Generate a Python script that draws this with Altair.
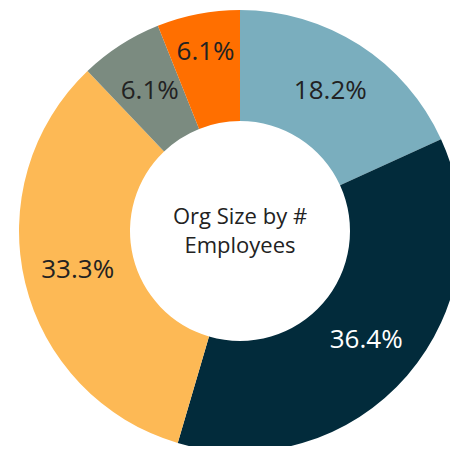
import altair as alt
import pandas as pd

categories = ["A", "B", "C", "D", "E"]
counts = [6, 12, 11, 2, 2]
labels = ["18.2%", "36.4%", "33.3%", "6.1%", "6.1%"]
colors = ["#7AAEBE", "#022B3B", "#FDB955", "#7B8B80", "#FF6F00"]
label_colors = ["#222222", "#FFFFFF", "#222222", "#222222", "#222222"]
center_lines = ["Org Size by #", "Employees"]

df = pd.DataFrame({
    "cat": categories,
    "count": counts,
    "label": labels,
    "order": list(range(len(categories))),
    "tcolor": label_colors,
})

CX, CY = 232, 223
FONT = "Open Sans"

color = alt.Color("cat:N", scale=alt.Scale(domain=categories, range=colors), legend=None)

arcs = alt.Chart(df).mark_arc(outerRadius=221, innerRadius=110).encode(
    theta=alt.Theta("count:Q", stack=True),
    order=alt.Order("order:Q"),
    color=color,
    x=alt.value(CX), y=alt.value(CY),
)

txt = alt.Chart(df).transform_window(
    cum="sum(count)", sort=[alt.SortField("order", order="ascending")]
).transform_calculate(
    mid="datum.cum - datum.count / 2",
    r="datum.order == 4 ? 182 : 167",
).mark_text(
    fontSize=26, font=FONT, baseline="middle", align="center"
).encode(
    theta=alt.Theta("mid:Q", stack=None),
    text="label:N",
    color=alt.Color("tcolor:N", scale=None),
    radius=alt.Radius("r:Q", scale=None),
    x=alt.value(CX), y=alt.value(CY),
)

center = alt.Chart(pd.DataFrame({"t": center_lines, "i": [0, 1]})).transform_calculate(
    yy="216 + datum.i * 29"
).mark_text(
    fontSize=22, font=FONT, color="#222222", align="center", baseline="alphabetic"
).encode(
    text="t:N",
    x=alt.value(CX),
    y=alt.Y("yy:Q", scale=None, axis=None),
)

chart = alt.layer(arcs, txt, center).properties(
    width=442, height=438, autosize=alt.AutoSizeParams(type="none"), padding=0
).configure_view(stroke=None)

chart.save("out.html", embed_options={"renderer": "svg", "actions": False})
